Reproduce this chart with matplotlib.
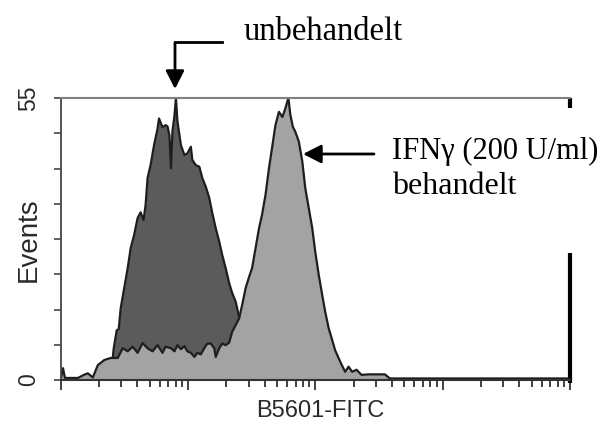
import numpy as np
import matplotlib
matplotlib.use("Agg")
import matplotlib.pyplot as plt

# FITC channel (0..1024, 4 decades log) and event counts
ifn_channel = [0, 1, 5, 9, 35, 47, 55, 65, 75, 88, 101, 115, 125, 135, 145, 155, 165,
               175, 185, 195, 205, 211, 222, 229, 235, 242, 249, 255, 262, 269, 275,
               282, 289, 295, 302, 309, 312, 319, 325, 332, 339, 345, 352, 359, 365,
               372, 379, 385, 392, 399, 405, 412, 419, 426, 432, 439, 446, 452, 458,
               462, 467, 472, 479, 486, 492, 499, 506, 512, 519, 526, 532, 539, 546,
               552, 562, 572, 579, 586, 595, 605, 619, 652, 662, 1024]
ifn_events = [0.4, 0.4, 2.3, 0.4, 0.4, 1.0, 1.3, 0.5, 2.9, 3.9, 4.3, 4.3, 6.2, 5.6, 6.5,
              5.3, 7.2, 6.2, 5.6, 6.8, 5.3, 6.5, 6.2, 5.6, 6.8, 6.0, 6.6, 5.6, 5.3, 4.5,
              5.3, 5.0, 6.2, 7.1, 7.1, 6.2, 4.5, 6.2, 7.1, 6.8, 7.3, 9.4, 10.7, 12.0,
              14.6, 17.9, 20.1, 21.8, 25.7, 29.6, 32.2, 36.1, 41.3, 45.8, 49.7, 52.3,
              51.3, 53.0, 55.0, 51.7, 49.4, 48.4, 46.5, 42.6, 37.4, 33.5, 29.6, 25.0,
              20.5, 16.6, 13.3, 10.1, 7.8, 5.8, 3.6, 1.6, 2.6, 1.6, 2.0, 1.0, 1.1, 1.1,
              0.3, 0.3]

ctrl_channel = [0, 100, 105, 107, 113, 117, 121, 128, 135, 141, 148, 155, 161, 167, 171,
                175, 181, 188, 195, 198, 205, 211, 215, 219, 222, 225, 229, 232, 235,
                239, 242, 249, 255, 262, 265, 272, 279, 285, 292, 299, 305, 312, 319,
                325, 332, 339, 345, 352, 359, 363, 375, 390, 1024]
ctrl_events = [0, 0, 4.3, 6.2, 9.7, 9.9, 14.0, 17.9, 21.8, 25.7, 28.3, 31.6, 32.7, 31.2,
               34.1, 39.4, 41.9, 45.8, 49.0, 51.0, 49.3, 49.7, 49.5, 47.7, 41.3, 48.5,
               51.5, 55.0, 50.5, 47.8, 45.8, 43.9, 44.2, 45.5, 42.9, 41.9, 41.6, 39.4,
               37.7, 35.5, 32.6, 29.6, 27.0, 24.4, 21.8, 18.9, 17.0, 15.3, 12.3, 11.0,
               5.0, 0, 0]

W, H = 611, 421
fig = plt.figure(figsize=(W / 100, H / 100), dpi=100)
ax = fig.add_axes([60.5 / W, 1 - 380 / H, (570 - 60.5) / W, (380 - 98) / H])

x_ifn = 10 ** (np.array(ifn_channel) / 256)
x_ctrl = 10 ** (np.array(ctrl_channel) / 256)
edge = "#1e1e1e"

# untreated first, treated drawn over it
ax.fill_between(x_ctrl, ctrl_events, color="#5b5b5b", lw=0, zorder=1)
ax.plot(x_ctrl, ctrl_events, color=edge, lw=1.6, zorder=1.5)
ax.fill_between(x_ifn, ifn_events, color="#a3a3a3", lw=0, zorder=2)
ax.plot(x_ifn, ifn_events, color=edge, lw=1.6, zorder=2.5)

ax.set_xscale("log")
ax.set_xlim(1, 1e4)
ax.set_ylim(0, 55)
ax.xaxis.set_major_locator(matplotlib.ticker.LogLocator(base=10, numticks=10))
ax.xaxis.set_minor_locator(matplotlib.ticker.LogLocator(base=10, subs=np.arange(2, 10), numticks=10))
ax.xaxis.set_major_formatter(matplotlib.ticker.NullFormatter())
ax.xaxis.set_minor_formatter(matplotlib.ticker.NullFormatter())
ax.tick_params(axis="x", which="major", length=7, width=1.3, color="#333333", direction="out")
ax.tick_params(axis="x", which="minor", length=5, width=1.3, color="#333333", direction="out")

yt = np.linspace(0, 55, 9)
ax.set_yticks(yt)
ax.set_yticklabels(["0"] + [""] * 7 + ["55"], rotation=90, va="center",
                   fontfamily="Liberation Sans", fontsize=16.5, color="#2a2a2a")
ax.tick_params(axis="y", length=5, width=1.2, color="#444444", pad=10)

ax.spines["top"].set_color("#808080")
ax.spines["top"].set_linewidth(1.5)
ax.spines["left"].set_color("#444444")
ax.spines["left"].set_linewidth(1.3)
ax.spines["bottom"].set_color("#333333")
ax.spines["bottom"].set_linewidth(1.5)
ax.spines["right"].set_visible(False)
# broken right border
ax.plot([1, 1], [1.0, 0.965], transform=ax.transAxes, color="black", lw=3, clip_on=False,
        solid_capstyle="butt")
ax.plot([1, 1], [0.45, -0.01], transform=ax.transAxes, color="black", lw=3, clip_on=False,
        solid_capstyle="butt")

fig.text(29 / W, 1 - 240 / H, "Events", rotation=90, ha="center", va="center",
         fontfamily="Liberation Sans", fontsize=20, color="#2a2a2a")
fig.text(320 / W, 1 - 411 / H, "B5601-FITC", ha="center", va="center",
         fontfamily="Liberation Sans", fontsize=17, color="#2a2a2a")

serif = "Liberation Serif"
fig.text(244 / W, 1 - 40 / H, "unbehandelt", ha="left", va="baseline",
         fontfamily=serif, fontsize=23.5)
fig.text(392 / W, 1 - 159 / H, "IFN\u03b3 (200 U/ml)", ha="left", va="baseline",
         fontfamily=serif, fontsize=22)
fig.text(392 / W, 1 - 194 / H, "behandelt", ha="left", va="baseline",
         fontfamily=serif, fontsize=23)

# arrows (figure pixel coords, origin bottom-left)
fig.add_artist(matplotlib.lines.Line2D([222, 175], [H - 41.7, H - 41.7], color="black", lw=2,
                                       transform=None))
head = "-|>,head_length=0.55,head_width=0.28"
ax.annotate("", xy=(175, H - 89), xycoords="figure pixels", xytext=(175, H - 42.7),
            textcoords="figure pixels",
            arrowprops=dict(arrowstyle=head, color="black", lw=2, mutation_scale=20,
                            shrinkA=0, shrinkB=0), annotation_clip=False)
ax.annotate("", xy=(303, H - 154), xycoords="figure pixels", xytext=(374, H - 154),
            textcoords="figure pixels",
            arrowprops=dict(arrowstyle=head, color="black", lw=2, mutation_scale=20,
                            shrinkA=0, shrinkB=0), annotation_clip=False)

fig.savefig("out.png", dpi=100)
